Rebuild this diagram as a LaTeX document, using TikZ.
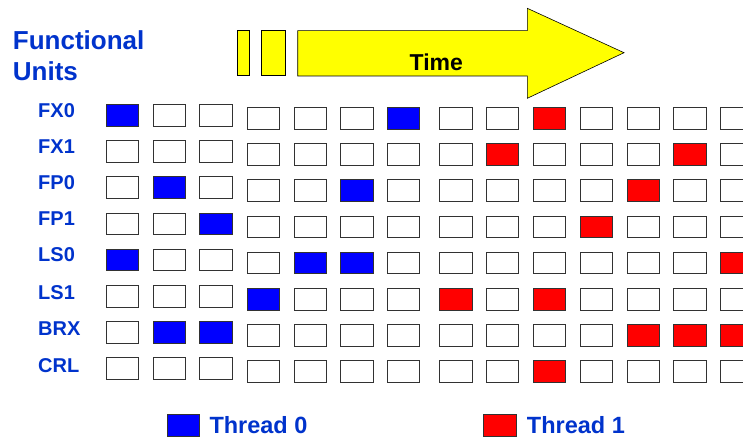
\documentclass[tikz,border=0pt]{standalone}
\usepackage{fontspec}
\setmainfont{Liberation Sans}
\definecolor{tblue}{RGB}{0,0,255}
\definecolor{tred}{RGB}{255,0,0}
\definecolor{tyellow}{RGB}{255,255,0}
\definecolor{lblue}{RGB}{0,51,204}
\definecolor{edge}{RGB}{50,50,50}
\newcommand\setcell[3]{\expandafter\def\csname cf-#1-#2\endcsname{#3}}
\setcell{1}{1}{tblue}\setcell{1}{7}{tblue}\setcell{1}{10}{tred}
\setcell{2}{9}{tred}\setcell{2}{13}{tred}
\setcell{3}{2}{tblue}\setcell{3}{6}{tblue}\setcell{3}{12}{tred}
\setcell{4}{3}{tblue}\setcell{4}{11}{tred}
\setcell{5}{1}{tblue}\setcell{5}{5}{tblue}\setcell{5}{6}{tblue}\setcell{5}{14}{tred}
\setcell{6}{4}{tblue}\setcell{6}{8}{tred}\setcell{6}{10}{tred}
\setcell{7}{2}{tblue}\setcell{7}{3}{tblue}\setcell{7}{12}{tred}\setcell{7}{13}{tred}\setcell{7}{14}{tred}
\setcell{8}{10}{tred}
\begin{document}
\begin{tikzpicture}[x=1bp,y=-1bp,
  cell/.style={draw=edge,line width=1bp,minimum width=32.3bp,minimum height=21.7bp,inner sep=0pt},
  rowlabel/.style={anchor=base west,inner sep=0pt,text=lblue,font=\fontsize{20bp}{24bp}\selectfont\bfseries},
  titlelabel/.style={anchor=base west,inner sep=0pt,text=lblue,font=\fontsize{26bp}{30bp}\selectfont\bfseries},
  legendlabel/.style={anchor=base west,inner sep=0pt,text=lblue,font=\fontsize{23.5bp}{28bp}\selectfont\bfseries},
  arrowpart/.style={draw=black,line width=0.6bp,fill=tyellow}]
\clip (0,0) rectangle (743,438);
\fill[white] (0,0) rectangle (743,438);
% title
\node[titlelabel] (t1) at (12.7,49.3) {Functional};
\node[titlelabel] (t2) at (12.7,81) {Units};
% time arrow
\draw[arrowpart] (237.3,30.7) rectangle (249.3,75.7);
\draw[arrowpart] (261.3,30.7) rectangle (285.7,75.7);
\draw[arrowpart] (297.7,30.7) -- (527.3,30.7) -- (527.3,8.3) -- (624,52.7) -- (527.3,98.3) -- (527.3,76) -- (297.7,76) -- cycle;
\node[anchor=base,inner sep=0pt,font=\fontsize{23bp}{27bp}\selectfont\bfseries] (time) at (436.3,70.7) {Time};
% row labels
\foreach \r/\lab/\b in {1/FX0/117.3,2/FX1/153.3,3/FP0/189.5,4/FP1/225.5,5/LS0/261.7,6/LS1/300,7/BRX/336,8/CRL/372.3}{
  \node[rowlabel] (lab-\r) at (38,\b) {\lab};
}
% cells
\foreach \r/\y in {1/107.3,2/143.3,3/179.3,4/215.7,5/251.7,6/288.3,7/324.3,8/360.3}{
  \foreach \c/\x in {1/106,2/152.7,3/199.3,4/247,5/293.7,6/340.3,7/386.7,8/439.3,9/486,10/532.7,11/580,12/626.7,13/673.3,14/720}{
    \ifcsname cf-\r-\c\endcsname
      \edef\fc{\csname cf-\r-\c\endcsname}%
    \else
      \def\fc{white}%
    \fi
    \pgfmathsetmacro\yy{\y+11.35-(\c<4)*3}
    \pgfmathsetmacro\xx{\x+16.65}
    \node[cell,fill=\fc] (b-\r-\c) at (\xx,\yy) {};
  }
}
% legend
\node[cell,fill=tblue] (leg0) at (183.3,425.3) {};
\node[legendlabel] (leg0t) at (209.3,433.3) {Thread 0};
\node[cell,fill=tred] (leg1) at (500,425.3) {};
\node[legendlabel] (leg1t) at (526.7,433.3) {Thread 1};
\end{tikzpicture}
\end{document}
